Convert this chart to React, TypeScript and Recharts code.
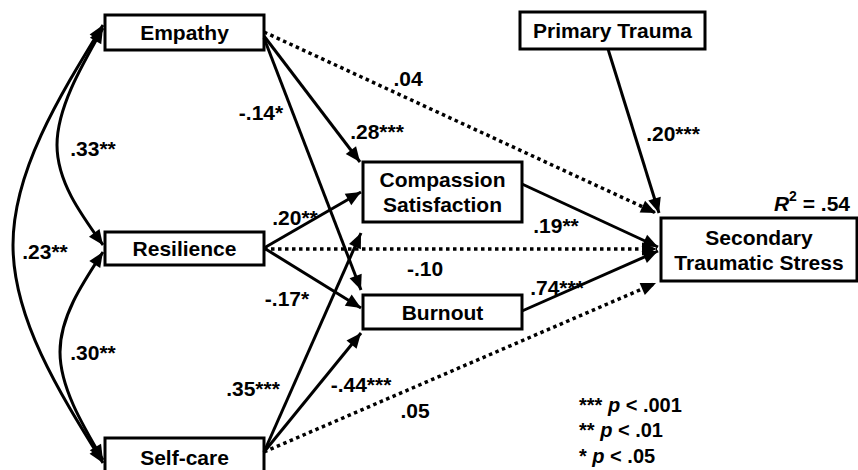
import { ScatterChart, Scatter, XAxis, YAxis, ReferenceArea } from "recharts";

const W = 858;
const H = 470;
const FONT = '"Liberation Sans", Arial, Helvetica, sans-serif';

// variables of the path model, with their box bounds [left, right, top, bottom]
const nodeNames = [
  ["Empathy"],
  ["Resilience"],
  ["Self-care"],
  ["Compassion", "Satisfaction"],
  ["Burnout"],
  ["Primary Trauma"],
  ["Secondary", "Traumatic Stress"],
];
const nodeBounds = [
  [105, 264, 15, 50],
  [105, 264, 232, 265],
  [105, 264, 438, 476],
  [363, 522, 162, 222],
  [363, 522, 295, 329],
  [520, 705, 12, 49],
  [661, 857, 218, 281],
];

// directed paths: [x1, y1, x2, y2], significant ones solid, the rest dotted
const paths = [
  { from: [264, 36], to: [360, 162], sig: true },
  { from: [264, 38], to: [361, 290], sig: true },
  { from: [264, 32], to: [656, 213], sig: false },
  { from: [608, 49], to: [659, 213], sig: true },
  { from: [522, 184], to: [658, 247], sig: true },
  { from: [264, 249], to: [657, 249], sig: false },
  { from: [522, 311], to: [658, 251], sig: true },
  { from: [264, 452], to: [656, 283], sig: false },
  { from: [264, 248], to: [361, 192], sig: true },
  { from: [264, 248], to: [361, 308], sig: true },
  { from: [264, 452], to: [361, 233], sig: true },
  { from: [264, 452], to: [361, 333], sig: true },
];

// correlations (double-headed curves): start, bend, end
const correlations = [
  [[103, 28], [57, 145], [103, 245]],
  [[103, 252], [60, 352], [103, 460]],
  [[103, 25], [13, 245], [103, 463]],
];

// path coefficients and where they are written
const coefText = [".04", "-.14*", ".28***", ".33**", ".20**", ".20***", ".19**", ".23**", "-.10", "-.17*", ".74***", ".30**", ".35***", "-.44***", ".05"];
const coefAt = [
  [408, 78], [261, 112], [377, 131], [93, 148], [295, 217], [673, 133], [556, 225], [45, 251],
  [425, 268], [287, 298], [557, 287], [93, 352], [253, 388], [361, 384], [415, 410],
];

const legendStars = ["***", "**", "*"];
const legendCut = ["< .001", "< .01", "< .05"];
const legendY = [405, 430, 456];

type Pt = number[];

// tangent at the ends of a natural spline through 3 points (same as the curve drawn)
function endTangents(p0: Pt, p1: Pt, p2: Pt) {
  const d = [p0[0] - 2 * p1[0] + p2[0], p0[1] - 2 * p1[1] + p2[1]];
  const s0 = [p1[0] - p0[0] - 0.25 * d[0], p1[1] - p0[1] - 0.25 * d[1]];
  const s2 = [p2[0] - p1[0] + 0.25 * d[0], p2[1] - p1[1] + 0.25 * d[1]];
  return { start: Math.atan2(-s0[1], -s0[0]), end: Math.atan2(s2[1], s2[0]) };
}

const deg = (r: number) => (r * 180) / Math.PI;

const arrowHeads = [
  ...paths.map((p) => ({
    x: p.to[0],
    y: p.to[1],
    angle: deg(Math.atan2(p.to[1] - p.from[1], p.to[0] - p.from[0])),
  })),
  ...correlations.flatMap(([a, b, c]) => {
    const t = endTangents(a, b, c);
    return [
      { x: a[0], y: a[1], angle: deg(t.start) },
      { x: c[0], y: c[1], angle: deg(t.end) },
    ];
  }),
];

const nodeText = nodeNames.map((lines, i) => {
  const [l, r, t, b] = nodeBounds[i];
  return { x: (l + r) / 2, y: (t + b) / 2, lines };
});

const coefData = coefText.map((t, i) => ({ x: coefAt[i][0], y: coefAt[i][1], t }));
const legendData = legendStars.map((s, i) => ({ x: 579, y: legendY[i], s, cut: legendCut[i] }));

const Nothing = () => <g />;

const ArrowHead = ({ cx, cy, payload }: any) => (
  <polygon
    points="0,0 -15,-6.5 -15,6.5"
    transform={`translate(${cx},${cy}) rotate(${payload.angle})`}
    fill="#000"
  />
);

const NodeLabel = ({ cx, cy, payload }: any) => {
  const n = payload.lines.length;
  return (
    <text textAnchor="middle" fontFamily={FONT} fontWeight="bold" fontSize={21} fill="#000">
      {payload.lines.map((s: string, i: number) => (
        <tspan key={s} x={cx} y={cy + (i - (n - 1) / 2) * 25} dominantBaseline="central">
          {s}
        </tspan>
      ))}
    </text>
  );
};

const CoefLabel = ({ cx, cy, payload }: any) => (
  <text x={cx} y={cy} textAnchor="middle" dominantBaseline="central" fontFamily={FONT} fontWeight="bold" fontSize={21} fill="#000">
    {payload.t}
  </text>
);

const LegendLine = ({ cx, cy, payload }: any) => (
  <text x={cx} y={cy} dominantBaseline="central" fontFamily={FONT} fontWeight="bold" fontSize={20} fill="#000">
    {payload.s + " "}
    <tspan fontStyle="italic">p</tspan>
    {" " + payload.cut}
  </text>
);

const RSquare = ({ cx, cy }: any) => (
  <text x={cx} y={cy} textAnchor="middle" dominantBaseline="central" fontFamily={FONT} fontWeight="bold" fontSize={21} fill="#000">
    <tspan fontStyle="italic">R</tspan>
    <tspan fontSize={14} dy={-7}>2</tspan>
    <tspan dy={7}> = .54</tspan>
  </text>
);

export default function App() {
  return (
    <div style={{ position: "absolute", left: 0, top: 0, background: "#fff" }}>
      <ScatterChart width={W} height={H} margin={{ top: 0, right: 0, bottom: 0, left: 0 }}>
        <XAxis type="number" dataKey="x" domain={[0, W]} allowDataOverflow hide />
        <YAxis type="number" dataKey="y" domain={[0, H]} reversed allowDataOverflow hide />

        {nodeBounds.map(([l, r, t, b], i) => (
          <ReferenceArea
            key={"box" + i}
            x1={l}
            x2={r}
            y1={t}
            y2={b}
            fill="#fff"
            fillOpacity={1}
            stroke="#000"
            strokeWidth={3}
            ifOverflow="visible"
          />
        ))}

        {paths.map((p, i) => (
          <Scatter
            key={"path" + i}
            data={[
              { x: p.from[0], y: p.from[1] },
              { x: p.to[0], y: p.to[1] },
            ]}
            fill="#000"
            line={{ stroke: "#000", strokeWidth: p.sig ? 3 : 3.5, strokeDasharray: p.sig ? undefined : "3.5 3.5" }}
            shape={Nothing}
            isAnimationActive={false}
          />
        ))}

        {correlations.map((c, i) => (
          <Scatter
            key={"cor" + i}
            data={c.map((p) => ({ x: p[0], y: p[1] }))}
            fill="#000"
            line={{ stroke: "#000", strokeWidth: 3 }}
            lineJointType="natural"
            shape={Nothing}
            isAnimationActive={false}
          />
        ))}

        <Scatter data={arrowHeads} shape={ArrowHead} isAnimationActive={false} />
        <Scatter data={nodeText} shape={NodeLabel} isAnimationActive={false} />
        <Scatter data={coefData} shape={CoefLabel} isAnimationActive={false} />
        <Scatter data={[{ x: 812, y: 203 }]} shape={RSquare} isAnimationActive={false} />
        <Scatter data={legendData} shape={LegendLine} isAnimationActive={false} />
      </ScatterChart>
    </div>
  );
}
